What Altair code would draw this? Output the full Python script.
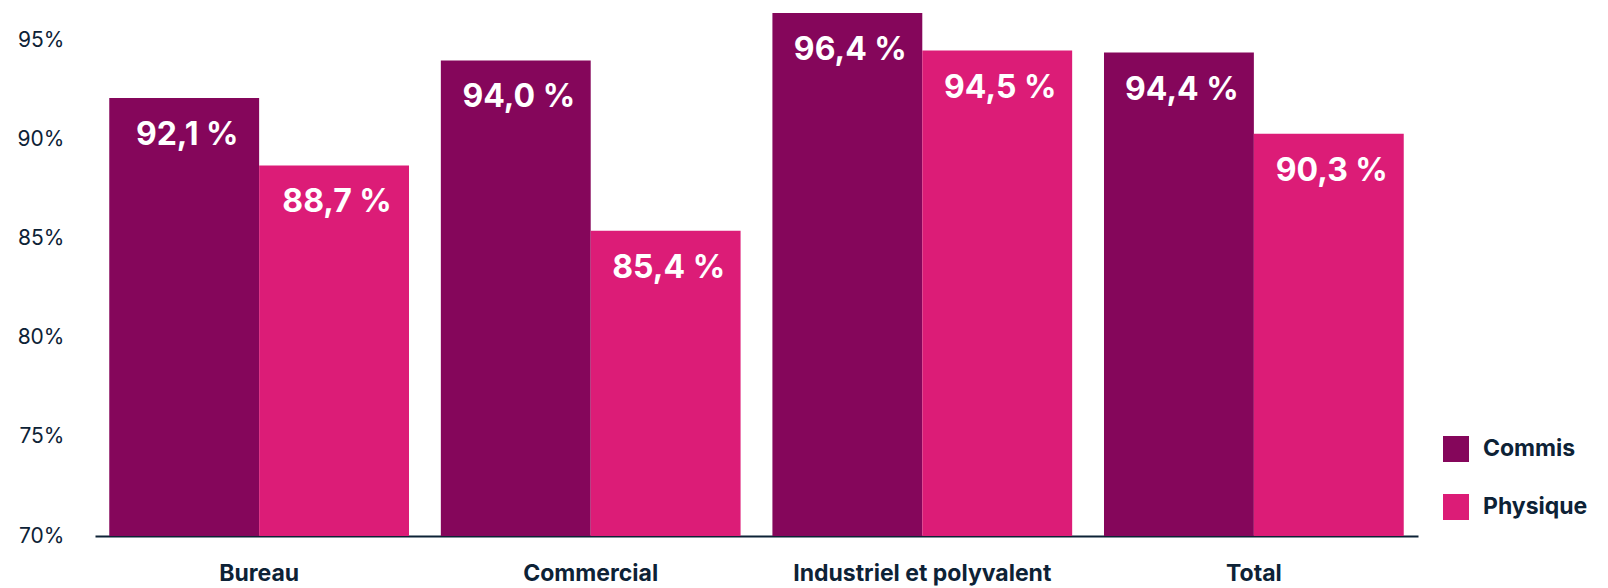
import altair as alt
import pandas as pd

categories = ["Bureau", "Commercial", "Industriel et polyvalent", "Total"]
series = ["Commis", "Physique"]
commis = [92.1, 94.0, 96.4, 94.4]
physique = [88.7, 85.4, 94.5, 90.3]
y_ticks = [70, 75, 80, 85, 90, 95]
colors = ["#85065B", "#DC1C77"]

rows = []
for i, c in enumerate(categories):
    for s, vals in zip(series, [commis, physique]):
        v = vals[i]
        rows.append({"cat": c, "serie": s, "val": v,
                     "lab": f"{v:.1f}".replace(".", ",") + " %"})
df = pd.DataFrame(rows)

FONT = "Inter"
DARK = "#0D2236"

x = alt.X("cat:N", sort=categories, title=None,
          scale=alt.Scale(paddingInner=0.096, paddingOuter=0.043),
          axis=alt.Axis(labelAngle=0, labelFont=FONT, labelFontSize=23,
                        labelFontWeight="bold", labelColor=DARK, labelLimit=0,
                        labelPadding=26, ticks=False, domainColor=DARK,
                        domainWidth=2))
y = alt.Y("val:Q", title=None,
          scale=alt.Scale(domain=[70, 97], nice=False, zero=False, clamp=True),
          axis=alt.Axis(values=y_ticks, labelExpr="datum.value + '%'",
                        labelFont=FONT, labelFontSize=21, labelColor=DARK,
                        labelPadding=31, ticks=False, domain=False, grid=False))

base = alt.Chart(df).encode(
    x=x,
    xOffset=alt.XOffset("serie:N", sort=series,
                        scale=alt.Scale(paddingInner=0, paddingOuter=0)),
)

bars = base.mark_bar().encode(
    y=y,
    y2=alt.datum(70),
    color=alt.Color("serie:N", sort=series,
                    scale=alt.Scale(domain=series, range=colors),
                    legend=alt.Legend(title=None, orient="none",
                                      legendX=1348, legendY=435,
                                      symbolType="square", symbolSize=676,
                                      symbolStrokeWidth=0, symbolOpacity=1,
                                      labelFont=FONT, labelFontSize=23,
                                      labelFontWeight="bold", labelColor=DARK,
                                      labelOffset=14, rowPadding=32)),
)

text = base.mark_text(font=FONT, fontSize=32, fontWeight="bold",
                      color="white", baseline="middle", dy=37, dx=3).encode(
    y=alt.Y("val:Q"),
    text="lab:N",
)

chart = alt.layer(bars, text).properties(
    width=1323, height=535,
    background="white",
    padding={"left": 95, "top": 1, "right": 190, "bottom": 52},
    autosize=alt.AutoSizeParams(type="none"),
).configure_view(strokeWidth=0, stroke=None)

chart.save("out.html", embed_options={"renderer": "svg", "actions": False})
